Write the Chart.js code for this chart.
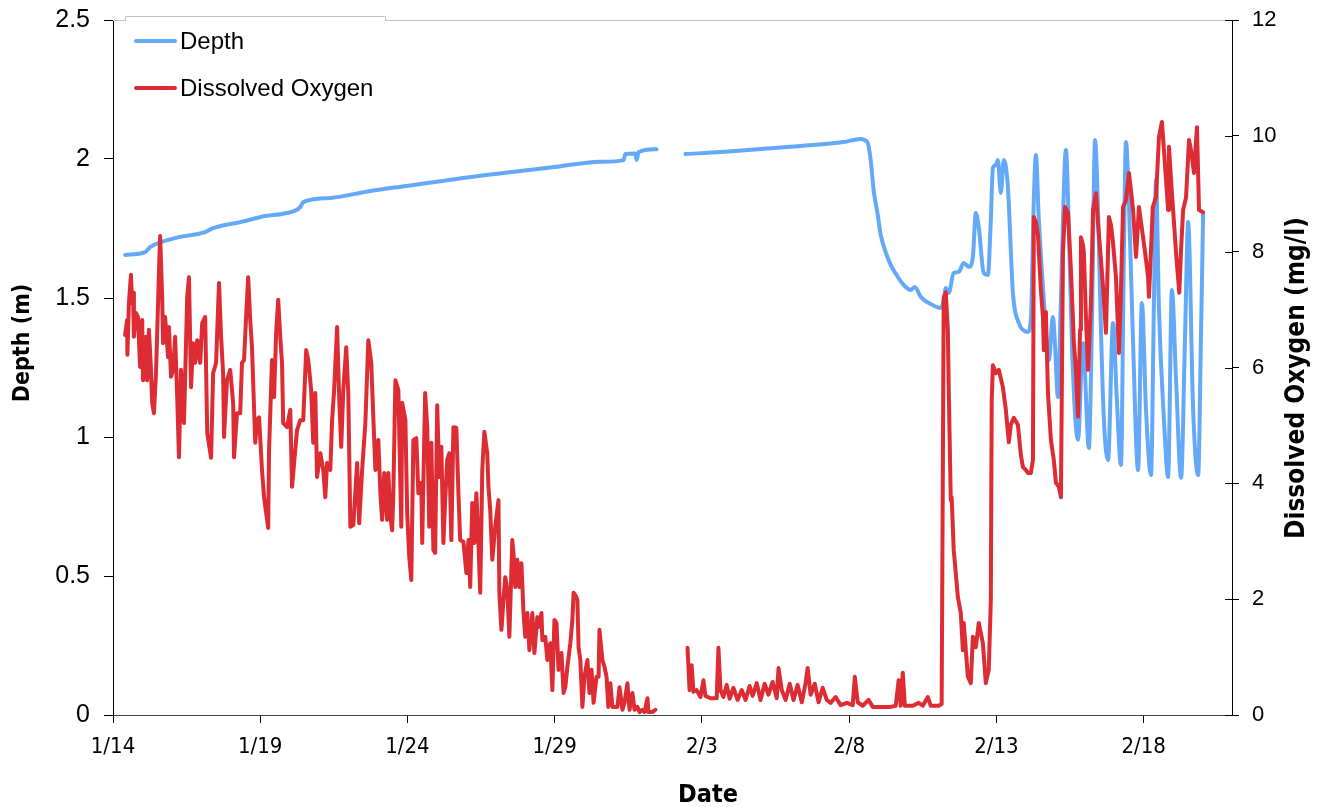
<!DOCTYPE html>
<html><head><meta charset="utf-8">
<script src="https://cdn.jsdelivr.net/npm/chart.js@4/dist/chart.umd.min.js"></script>
<style>html,body{margin:0;padding:0;background:#fff;}#wrap{width:1322px;height:807px;}</style>
</head><body><div id="wrap"><canvas id="c" width="1322" height="807"></canvas></div>
<script>
// x values are days after 1/14
const dateTickLabels = ['1/14','1/19','1/24','1/29','2/3','2/8','2/13','2/18'];
const depthTickLabels = ['0','0.5','1','1.5','2','2.5'];
const oxygenTickLabels = ['0','2','4','6','8','10','12'];
const seriesNames = ['Depth','Dissolved Oxygen'];
const xTitle = 'Date';
const yTitle = 'Depth (m)';
const y2Title = 'Dissolved Oxygen (mg/l)';

const depthReadings = [
[0.41,1.655],[1.09,1.665],[1.26,1.683],[1.60,1.70],[2.28,1.72],[3.13,1.737],[3.37,1.75],[4.32,1.773],[5.17,1.795],[5.85,1.805],[6.36,1.827],[6.46,1.845],[7.38,1.86],[8.74,1.885],[9.96,1.903],[11.11,1.92],[12.47,1.94],[13.83,1.957],[14.92,1.97],[16.55,1.99],[17.34,1.996],[17.40,2.018],[17.74,2.02],[17.78,1.996],[17.85,2.025],[18.46,2.035],
[19.0,null],
[19.44,2.018],[20.63,2.025],[21.99,2.036],[23.35,2.047],[24.81,2.061],[25.39,2.072],[25.53,2.068],[25.63,2.058],[25.73,1.996],[25.83,1.888],[25.97,1.799],[26.07,1.727],[26.24,1.665],[26.41,1.619],[26.65,1.576],[26.85,1.547],[27.09,1.529],[27.23,1.540],[27.43,1.504],[27.77,1.478],[28.11,1.464],[28.21,1.493],[28.28,1.536],[28.38,1.518],[28.55,1.590],[28.72,1.594],[28.89,1.626],[29.06,1.612],[29.20,1.647],[29.30,1.806],[29.40,1.755],[29.57,1.590],[29.71,1.583],[29.81,1.781],[29.88,1.968],[29.98,1.978],[30.05,1.996],[30.15,1.878],[30.25,1.996],[30.39,1.899],[30.56,1.518],[30.76,1.410],[30.90,1.385],[31.07,1.378],[31.17,1.421],[31.27,1.853],[31.34,2.014],[31.44,1.781],[31.61,1.493],[31.78,1.277],[31.92,1.432],[31.98,1.349],[32.09,1.144],[32.19,1.493],[32.36,2.032],[32.47,1.709],[32.57,1.313],[32.77,0.99],[32.94,1.338],[33.14,0.960],[33.24,1.385],[33.35,2.068],[33.45,1.817],[33.55,1.385],[33.65,1.061],[33.79,0.917],[33.96,1.410],[34.09,1.133],[34.23,0.899],[34.33,1.673],[34.40,2.061],[34.50,1.842],[34.64,1.338],[34.81,0.881],[34.94,1.482],[35.08,1.097],[35.25,0.863],[35.35,1.493],[35.42,1.924],[35.52,1.457],[35.69,1.061],[35.83,0.856],[35.96,1.529],[36.10,1.205],[36.27,0.853],[36.41,1.385],[36.51,1.773],[36.68,1.097],[36.85,0.863],[36.95,1.385],[37.02,1.806]
];

const oxygenReadings = [
[0.41,6.56],[0.48,6.82],[0.49,6.22],[0.54,7.11],[0.61,7.60],[0.65,7.11],[0.68,7.29],[0.71,6.53],[0.78,6.94],[0.85,6.87],[0.92,6.01],[0.99,6.82],[1.02,5.78],[1.12,6.53],[1.16,5.78],[1.22,6.65],[1.29,5.96],[1.33,5.39],[1.39,5.21],[1.46,5.90],[1.56,7.63],[1.60,8.27],[1.67,7.22],[1.70,6.42],[1.77,6.87],[1.87,6.18],[1.90,6.70],[1.97,5.84],[2.04,5.96],[2.11,6.53],[2.18,5.49],[2.24,4.45],[2.31,5.96],[2.38,5.21],[2.41,5.04],[2.52,7.22],[2.58,7.56],[2.65,5.66],[2.72,6.42],[2.79,6.08],[2.86,6.47],[2.96,6.08],[3.03,6.77],[3.13,6.87],[3.20,4.87],[3.33,4.44],[3.40,5.90],[3.50,6.08],[3.60,7.46],[3.67,6.53],[3.74,5.90],[3.77,4.80],[3.87,5.78],[3.98,5.96],[4.08,5.39],[4.11,4.45],[4.21,5.21],[4.32,5.21],[4.38,6.08],[4.45,6.13],[4.52,6.87],[4.59,7.56],[4.66,6.82],[4.72,6.35],[4.83,4.70],[4.89,5.09],[4.96,5.14],[5.06,4.23],[5.13,3.76],[5.27,3.23],[5.30,4.58],[5.40,6.13],[5.47,5.49],[5.54,6.60],[5.61,7.17],[5.68,6.53],[5.74,6.08],[5.78,5.04],[5.91,4.97],[6.02,5.27],[6.08,3.94],[6.25,4.92],[6.36,5.09],[6.46,5.09],[6.56,6.30],[6.63,6.13],[6.73,5.61],[6.80,4.70],[6.87,5.56],[6.93,4.11],[7.04,4.52],[7.14,4.23],[7.21,3.76],[7.27,4.35],[7.38,4.23],[7.44,5.09],[7.51,5.61],[7.61,6.70],[7.68,5.49],[7.75,4.63],[7.82,5.61],[7.92,6.35],[7.99,5.56],[8.06,3.25],[8.16,3.28],[8.29,4.35],[8.36,3.31],[8.46,4.23],[8.57,5.04],[8.67,6.47],[8.77,6.08],[8.84,5.14],[8.91,4.23],[9.01,4.75],[9.08,3.83],[9.14,3.37],[9.21,4.18],[9.31,3.37],[9.35,4.18],[9.42,3.42],[9.48,3.19],[9.52,3.83],[9.59,5.78],[9.69,5.61],[9.79,3.25],[9.82,5.39],[9.93,5.09],[9.99,3.49],[10.06,2.73],[10.13,2.33],[10.20,4.75],[10.30,4.78],[10.37,3.83],[10.47,4.01],[10.50,2.97],[10.60,5.56],[10.67,4.97],[10.74,3.25],[10.81,4.70],[10.88,2.85],[10.94,2.80],[11.01,5.35],[11.08,4.11],[11.15,4.63],[11.22,2.97],[11.28,3.71],[11.35,4.40],[11.42,4.52],[11.49,3.02],[11.56,4.97],[11.66,4.96],[11.73,3.83],[11.79,3.02],[11.90,2.99],[12.00,2.45],[12.07,3.02],[12.13,2.21],[12.20,3.66],[12.27,2.97],[12.34,3.83],[12.41,2.97],[12.47,2.11],[12.54,4.23],[12.61,4.89],[12.71,4.52],[12.75,3.94],[12.81,3.54],[12.88,2.68],[12.98,3.25],[13.09,3.71],[13.12,2.11],[13.19,1.47],[13.26,1.99],[13.32,2.38],[13.39,2.16],[13.46,1.35],[13.56,3.02],[13.60,2.80],[13.66,2.21],[13.73,2.68],[13.80,2.21],[13.87,2.62],[13.94,1.76],[14.00,1.35],[14.07,1.76],[14.14,1.12],[14.24,1.76],[14.31,1.07],[14.41,1.69],[14.45,1.52],[14.55,1.76],[14.58,1.29],[14.68,1.35],[14.75,0.95],[14.85,1.24],[14.92,0.43],[14.99,1.64],[15.06,1.59],[15.13,0.78],[15.23,1.07],[15.30,0.38],[15.36,0.48],[15.43,0.83],[15.53,1.24],[15.60,1.64],[15.64,2.11],[15.70,2.07],[15.77,1.99],[15.81,1.17],[15.87,0.95],[15.94,0.14],[16.01,0.66],[16.11,0.95],[16.18,0.38],[16.25,0.78],[16.32,0.21],[16.42,0.66],[16.49,0.66],[16.52,1.47],[16.62,0.95],[16.69,0.83],[16.76,0.66],[16.82,0.14],[16.89,0.55],[16.96,0.14],[17.06,0.14],[17.13,0.14],[17.20,0.48],[17.30,0.09],[17.37,0.21],[17.47,0.55],[17.54,0.09],[17.64,0.38],[17.71,0.09],[17.81,0.14],[17.88,0.05],[17.98,0.09],[18.05,0.05],[18.15,0.29],[18.18,0.05],[18.32,0.05],[18.42,0.09],
[19.0,null],
[19.51,1.16],[19.58,0.43],[19.65,0.86],[19.71,0.40],[19.82,0.43],[19.95,0.31],[20.05,0.60],[20.12,0.33],[20.29,0.29],[20.50,0.29],[20.56,1.16],[20.63,0.43],[20.73,0.31],[20.84,0.52],[20.94,0.28],[21.07,0.47],[21.21,0.26],[21.35,0.43],[21.48,0.26],[21.62,0.50],[21.72,0.33],[21.86,0.55],[21.99,0.26],[22.13,0.54],[22.26,0.35],[22.40,0.57],[22.54,0.29],[22.60,0.81],[22.71,0.43],[22.84,0.26],[22.98,0.54],[23.11,0.26],[23.25,0.52],[23.39,0.22],[23.52,0.55],[23.59,0.81],[23.69,0.35],[23.83,0.54],[23.96,0.22],[24.10,0.47],[24.24,0.26],[24.37,0.21],[24.54,0.31],[24.71,0.17],[24.92,0.21],[25.12,0.17],[25.19,0.66],[25.29,0.22],[25.46,0.16],[25.66,0.26],[25.80,0.14],[26.07,0.14],[26.41,0.14],[26.58,0.16],[26.68,0.60],[26.75,0.16],[26.82,0.73],[26.89,0.16],[27.16,0.16],[27.36,0.21],[27.50,0.16],[27.67,0.31],[27.77,0.16],[28.04,0.16],[28.14,0.19],[28.21,7.20],[28.28,7.30],[28.35,6.65],[28.38,5.66],[28.45,3.71],[28.48,3.76],[28.55,2.85],[28.69,2.04],[28.79,1.76],[28.86,1.12],[28.89,1.59],[29.03,0.66],[29.13,0.55],[29.20,1.35],[29.30,1.17],[29.40,1.59],[29.54,1.24],[29.64,0.55],[29.74,0.78],[29.81,1.99],[29.84,5.44],[29.88,6.04],[29.98,5.90],[30.08,5.96],[30.22,5.66],[30.32,5.27],[30.42,4.71],[30.49,5.01],[30.59,5.13],[30.73,5.01],[30.83,4.49],[30.90,4.28],[31.00,4.23],[31.07,4.18],[31.17,4.18],[31.24,4.40],[31.27,8.60],[31.34,8.51],[31.41,8.29],[31.51,7.34],[31.58,6.87],[31.61,6.30],[31.68,6.96],[31.75,5.56],[31.85,4.75],[31.95,4.40],[32.02,4.01],[32.12,3.94],[32.19,3.76],[32.26,7.98],[32.33,8.77],[32.43,8.67],[32.53,7.68],[32.60,6.82],[32.63,6.42],[32.70,5.96],[32.77,5.15],[32.84,6.65],[32.87,8.25],[32.94,8.11],[32.97,7.98],[33.04,6.87],[33.11,5.96],[33.21,7.11],[33.28,8.72],[33.38,9.01],[33.45,8.49],[33.55,7.86],[33.62,7.39],[33.72,6.60],[33.82,8.60],[33.89,8.46],[33.96,8.15],[34.06,7.56],[34.16,6.25],[34.23,7.34],[34.30,8.77],[34.40,8.89],[34.50,9.36],[34.57,9.06],[34.64,8.72],[34.74,7.91],[34.84,8.77],[34.98,8.25],[35.08,7.86],[35.15,7.56],[35.18,7.22],[35.25,8.03],[35.31,8.77],[35.42,8.94],[35.52,9.98],[35.62,10.24],[35.69,9.75],[35.76,9.24],[35.83,8.72],[35.86,9.81],[35.93,9.24],[36.00,8.72],[36.10,7.98],[36.21,7.29],[36.27,8.03],[36.34,8.72],[36.44,8.94],[36.54,9.93],[36.61,9.75],[36.71,9.36],[36.81,10.15],[36.88,8.72],[37.02,8.68]
];

const depthColor = '#64a8f8';
const oxygenColor = '#dd2c33';
const toPoints = arr => arr.map(p => ({x: p[0], y: p[1]}));

const decor = {
  id: 'decor',
  afterDraw(chart) {
    const {ctx, chartArea: a} = chart;
    ctx.save();
    ctx.strokeStyle = '#c0c0c0';
    ctx.lineWidth = 1;
    ctx.beginPath();
    ctx.moveTo(a.left, a.top + 0.5);
    ctx.lineTo(a.left + 12.5, a.top + 0.5);
    ctx.lineTo(a.left + 12.5, a.top - 3.5);
    ctx.lineTo(a.left + 272.5, a.top - 3.5);
    ctx.lineTo(a.left + 272.5, a.top + 0.5);
    ctx.lineTo(a.right, a.top + 0.5);
    ctx.stroke();
    const y2 = chart.scales.y2;
    ctx.strokeStyle = '#000';
    y2.ticks.forEach(t => {
      const py = Math.round(y2.getPixelForValue(t.value)) + 0.5;
      ctx.beginPath(); ctx.moveTo(a.right - 7, py); ctx.lineTo(a.right, py); ctx.stroke();
    });
    const items = [[seriesNames[0], depthColor, 21], [seriesNames[1], oxygenColor, 68]];
    ctx.font = '24px "Liberation Sans", Arial, sans-serif';
    ctx.textBaseline = 'middle';
    ctx.textAlign = 'left';
    items.forEach(([label, color, dy]) => {
      ctx.strokeStyle = color; ctx.lineWidth = 4; ctx.lineCap = 'round';
      ctx.beginPath(); ctx.moveTo(a.left + 23, a.top + dy); ctx.lineTo(a.left + 62, a.top + dy); ctx.stroke();
      ctx.fillStyle = '#000';
      ctx.fillText(label, a.left + 67, a.top + dy + 1);
    });
    ctx.fillStyle = '#000';
    ctx.textAlign = 'center';
    ctx.textBaseline = 'middle';
    ctx.font = 'bold 25px "DejaVu Sans Condensed", "DejaVu Sans", sans-serif';
    ctx.fillText(xTitle, 708, 795);
    ctx.font = 'bold 23px "DejaVu Sans Condensed", "DejaVu Sans", sans-serif';
    ctx.save(); ctx.translate(23, 343); ctx.rotate(-Math.PI / 2); ctx.fillText(yTitle, 0, 0); ctx.restore();
    ctx.font = 'bold 26px "DejaVu Sans Condensed", "DejaVu Sans", sans-serif';
    ctx.save(); ctx.translate(1297, 378); ctx.rotate(-Math.PI / 2); ctx.fillText(y2Title, 0, 0); ctx.restore();
    ctx.restore();
  }
};

const noPad = s => { s.paddingTop = 0; s.paddingBottom = 0; s.paddingLeft = 0; s.paddingRight = 0; };

new Chart(document.getElementById('c'), {
  type: 'line',
  data: {
    datasets: [
      {label: seriesNames[0], data: toPoints(depthReadings), yAxisID: 'y', borderColor: depthColor, borderWidth: 4, pointRadius: 0, cubicInterpolationMode: 'monotone', spanGaps: false, order: 1, borderJoinStyle: 'round', borderCapStyle: 'round'},
      {label: seriesNames[1], data: toPoints(oxygenReadings), yAxisID: 'y2', borderColor: oxygenColor, borderWidth: 4, pointRadius: 0, tension: 0, spanGaps: false, order: 0, borderJoinStyle: 'round', borderCapStyle: 'round'}
    ]
  },
  options: {
    responsive: false,
    animation: false,
    devicePixelRatio: 1,
    layout: {padding: {top: 20, left: 0, right: 0, bottom: 0}},
    plugins: {legend: {display: false}, tooltip: {enabled: false}},
    scales: {
      x: {
        type: 'linear', position: 'bottom', min: 0, max: 38,
        afterFit: s => { s.height = 92; noPad(s); },
        ticks: {stepSize: 5, includeBounds: false, autoSkip: false, maxRotation: 0, padding: 11,
          color: '#000', font: {family: '"DejaVu Sans Condensed", "DejaVu Sans", sans-serif', size: 22},
          callback: v => dateTickLabels[Math.round(v / 5)] ?? ''},
        grid: {drawOnChartArea: false, drawTicks: true, tickLength: 8, color: '#000'},
        border: {display: true, color: '#444', width: 1}
      },
      y: {
        position: 'left', min: 0, max: 2.5,
        afterFit: s => { s.width = 113; noPad(s); },
        ticks: {stepSize: 0.5, padding: 14, color: '#000', font: {family: '"Liberation Sans", Arial, sans-serif', size: 25},
          callback: v => depthTickLabels[Math.round(v / 0.5)] ?? ''},
        grid: {drawOnChartArea: false, drawTicks: true, tickLength: 9, color: '#000'},
        border: {display: true, color: '#000', width: 1}
      },
      y2: {
        position: 'right', min: 0, max: 12,
        afterFit: s => { s.width = 90; noPad(s); },
        ticks: {stepSize: 2, padding: 13, color: '#000', font: {family: '"Liberation Sans", Arial, sans-serif', size: 22},
          callback: v => oxygenTickLabels[Math.round(v / 2)] ?? ''},
        grid: {drawOnChartArea: false, drawTicks: true, tickLength: 7, color: '#000'},
        border: {display: true, color: '#000', width: 1}
      }
    }
  },
  plugins: [decor]
});
</script></body></html>
